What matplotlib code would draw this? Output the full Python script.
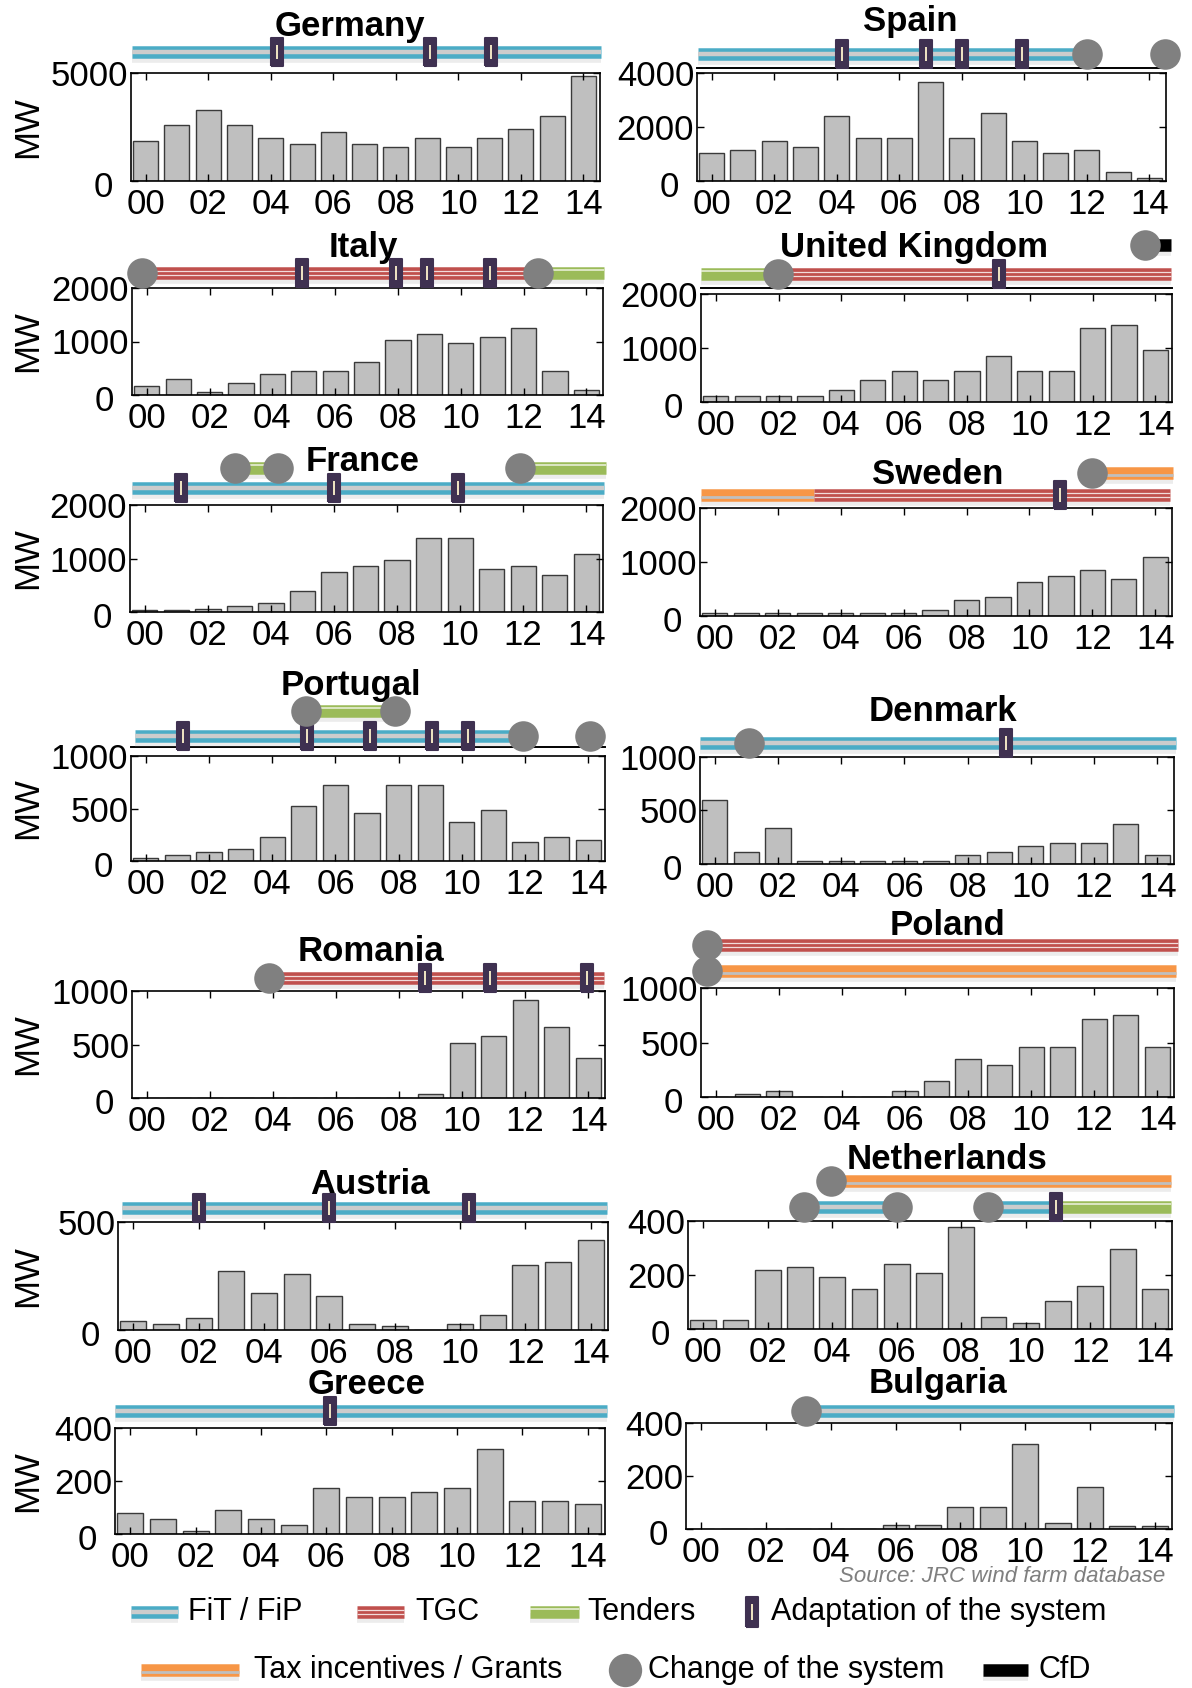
import matplotlib
matplotlib.use('Agg')
import matplotlib.pyplot as plt
from matplotlib.transforms import ScaledTranslation

plt.rcParams['font.family'] = ['Liberation Sans', 'DejaVu Sans']

W, H = 1192, 1688

# ---- data: yearly installed wind capacity (MW), 2000..2014
year_idx = list(range(15))
year_labels = ['00', '02', '04', '06', '08', '10', '12', '14']

mw_germany = [1860, 2590, 3310, 2590, 2010, 1730, 2290, 1730, 1580, 2010, 1580, 2010, 2430, 3000, 4860]
mw_spain = [1030, 1150, 1480, 1260, 2400, 1610, 1610, 3680, 1610, 2520, 1480, 1030, 1150, 320, 100]
mw_italy = [170, 290, 60, 220, 400, 455, 455, 620, 1030, 1145, 980, 1090, 1260, 450, 100]
mw_uk = [105, 105, 105, 105, 230, 400, 570, 400, 570, 850, 570, 570, 1370, 1420, 960]
mw_france = [45, 45, 50, 110, 170, 395, 745, 860, 980, 1390, 1390, 810, 860, 690, 1090]
mw_sweden = [50, 50, 50, 50, 50, 50, 50, 105, 290, 345, 630, 745, 860, 690, 1100]
mw_portugal = [28, 57, 85, 114, 227, 520, 725, 460, 725, 725, 375, 486, 177, 227, 202]
mw_denmark = [600, 112, 340, 28, 28, 28, 28, 28, 84, 112, 169, 197, 197, 372, 84]
mw_romania = [0, 0, 0, 0, 0, 0, 0, 0, 0, 34, 514, 576, 916, 659, 372]
mw_poland = [0, 31, 59, 0, 0, 0, 59, 150, 347, 290, 462, 462, 718, 750, 462]
mw_austria = [43, 30, 57, 272, 171, 258, 158, 30, 17, 0, 30, 71, 300, 314, 416]
mw_netherlands = [33, 33, 217, 228, 194, 149, 239, 206, 378, 46, 22, 103, 161, 296, 149]
mw_greece = [80, 57, 11, 90, 57, 34, 172, 138, 138, 159, 172, 319, 125, 125, 114]
mw_bulgaria = [0, 0, 0, 0, 0, 0, 14, 14, 82, 82, 319, 24, 160, 13, 13]

countries = ['Germany', 'Spain', 'Italy', 'United Kingdom', 'France', 'Sweden', 'Portugal',
             'Denmark', 'Romania', 'Poland', 'Austria', 'Netherlands', 'Greece', 'Bulgaria']
mw_values = [mw_germany, mw_spain, mw_italy, mw_uk, mw_france, mw_sweden, mw_portugal,
             mw_denmark, mw_romania, mw_poland, mw_austria, mw_netherlands, mw_greece, mw_bulgaria]
y_max = [5000, 4000, 2000, 2000, 2000, 2000, 1000, 1000, 1000, 1000, 500, 400, 400, 400]
y_ticks = [[0, 5000], [0, 2000, 4000], [0, 1000, 2000], [0, 1000, 2000], [0, 1000, 2000],
           [0, 1000, 2000], [0, 500, 1000], [0, 500, 1000], [0, 500, 1000], [0, 500, 1000],
           [0, 500], [0, 200, 400], [0, 200, 400], [0, 200, 400]]

# ---- support schemes: (scheme, start year, end year, row), events: (year, row)
seg_germany = [('fit', -0.45, 14.55, 0)]
seg_spain = [('fit', -0.45, 12.0, 0)]
seg_italy = [('tgc', -0.15, 12.45, 0), ('tender', 12.45, 14.55, 0)]
seg_uk = [('tender', -0.48, 1.97, 0), ('tgc', 1.97, 14.5, 0), ('cfd', 13.68, 14.5, 1)]
seg_france = [('fit', -0.4, 14.55, 0), ('tender', 2.85, 4.23, 1), ('tender', 11.9, 14.62, 1)]
seg_sweden = [('tax', -0.43, 3.16, 0), ('tgc', 3.16, 14.48, 0), ('tax', 12.0, 14.55, 1)]
seg_portugal = [('fit', -0.34, 11.95, 0), ('tender', 5.08, 7.9, 1)]
seg_denmark = [('fit', -0.48, 14.6, 0)]
seg_romania = [('tgc', 3.87, 14.5, 0)]
seg_poland = [('tax', -0.27, 14.6, 0), ('tgc', -0.27, 14.65, 1)]
seg_austria = [('fit', -0.36, 14.5, 0)]
seg_netherlands = [('tax', 3.95, 14.5, 1), ('fit', 3.12, 6.0, 0), ('fit', 8.83, 10.93, 0),
                   ('tender', 10.93, 14.5, 0)]
seg_greece = [('fit', -0.47, 14.6, 0)]
seg_bulgaria = [('fit', 3.23, 14.6, 0)]

adapt_germany = [(4.2, 0), (9.1, 0), (11.05, 0)]
adapt_spain = [(4.16, 0), (6.84, 0), (8.0, 0), (9.93, 0)]
adapt_italy = [(4.94, 0), (7.94, 0), (8.94, 0), (10.93, 0)]
adapt_uk = [(9.02, 0)]
adapt_france = [(1.16, 0), (6.0, 0), (9.93, 0)]
adapt_sweden = [(10.97, 0)]
adapt_portugal = [(1.18, 0), (5.1, 0), (7.1, 0), (9.04, 0), (10.2, 0)]
adapt_denmark = [(9.2, 0)]
adapt_romania = [(8.82, 0), (10.87, 0), (13.97, 0)]
adapt_poland = []
adapt_austria = [(2.0, 0), (5.99, 0), (10.29, 0)]
adapt_netherlands = [(10.93, 0)]
adapt_greece = [(6.1, 0)]
adapt_bulgaria = []

change_germany = []
change_spain = [(12.0, 0), (14.5, 0)]
change_italy = [(-0.15, 0), (12.45, 0)]
change_uk = [(1.97, 0), (13.68, 1)]
change_france = [(2.85, 1), (4.23, 1), (11.9, 1)]
change_sweden = [(12.0, 1)]
change_portugal = [(11.95, 0), (14.07, 0), (5.08, 1), (7.9, 1)]
change_denmark = [(1.09, 0)]
change_romania = [(3.87, 0)]
change_poland = [(-0.27, 0), (-0.29, 1)]
change_austria = []
change_netherlands = [(3.95, 1), (3.12, 0), (6.0, 0), (8.83, 0)]
change_greece = []
change_bulgaria = [(3.23, 0)]

segments = [seg_germany, seg_spain, seg_italy, seg_uk, seg_france, seg_sweden, seg_portugal,
            seg_denmark, seg_romania, seg_poland, seg_austria, seg_netherlands, seg_greece, seg_bulgaria]
adaptations = [adapt_germany, adapt_spain, adapt_italy, adapt_uk, adapt_france, adapt_sweden,
               adapt_portugal, adapt_denmark, adapt_romania, adapt_poland, adapt_austria,
               adapt_netherlands, adapt_greece, adapt_bulgaria]
changes = [change_germany, change_spain, change_italy, change_uk, change_france, change_sweden,
           change_portugal, change_denmark, change_romania, change_poland, change_austria,
           change_netherlands, change_greece, change_bulgaria]

# ---- layout (figure pixels): axes box (left, right, top, bottom), title (x, y), row offsets, baseline
boxes = [(131, 600, 73, 181), (697, 1166, 73, 181),
         (132, 603, 288, 395), (701, 1172, 294, 402),
         (130, 603, 505, 612), (700, 1172, 508, 616),
         (131, 605, 756, 861), (700, 1174, 757, 864),
         (132, 605, 991, 1098), (701, 1174, 988, 1097),
         (118, 608, 1222, 1330), (688, 1172, 1221, 1329),
         (115, 605, 1428, 1534), (686, 1172, 1423, 1529)]
titles = [(350, 24), (910, 19), (363, 245), (914, 245), (363, 459), (938, 472), (351, 683),
          (943, 709), (371, 949), (948, 923), (370, 1182), (947, 1157), (367, 1382), (938, 1381)]
rows = [(21, 45), (19, 45), (15, 40), (20, 49), (17, 37), (13, 35), (20, 45),
        (14, 40), (13, 40), (17, 43), (14, 40), (14, 40), (17, 40), (12, 40)]
baselines = [None, 5, None, 6, None, None, 9, None, None, None, None, None, None, None]

COL = {'fit': '#4bacc6', 'tgc': '#c0504d', 'tender': '#9bbb59', 'tax': '#f79646', 'cfd': 'black'}
ADAPT = '#3f3151'
CHANGE = '#808080'
rect = [(-0.44, -1), (0.44, -1), (0.44, 1), (-0.44, 1), (-0.44, -1)]


def band(ax, kind, x0, x1, y, down=-1):
    # down: direction of "lower" in the axes' y units (-1 normal, +1 inverted axes)
    kw = dict(solid_capstyle='butt', clip_on=False)
    ax.plot([x0, x1], [y + 6 * down] * 2, color='#999999', lw=7, alpha=0.18, zorder=2, **kw)
    ax.plot([x0, x1], [y, y], color=COL[kind], lw=9, zorder=3, **kw)
    if kind == 'fit':
        ax.plot([x0, x1], [y, y], color='#cccccc', lw=3.2, zorder=3, **kw)
    elif kind == 'tgc':
        ax.plot([x0, x1], [y + 2, y + 2], color='#f2dcdb', lw=0.9, zorder=3, **kw)
        ax.plot([x0, x1], [y - 2, y - 2], color='#f2dcdb', lw=0.9, zorder=3, **kw)
    elif kind == 'tender':
        ax.plot([x0, x1], [y - 2.6 * down] * 2, color='#eef3e0', lw=1.1, zorder=3, **kw)
    elif kind == 'tax':
        ax.plot([x0, x1], [y + 2.2 * down] * 2, color='#bfbfbf', lw=2.0, zorder=3, **kw)


def adapt_mark(ax, x, y, ms=19.5):
    ax.plot(x, y, marker=rect, ms=ms, color=ADAPT, mec=ADAPT, mew=1.5, zorder=5, clip_on=False)
    ax.plot(x, y, marker='|', ms=ms * 0.55, color='#fff4cc', mew=1.3, zorder=5, clip_on=False)


fig = plt.figure(figsize=(W / 100, H / 100), dpi=100)

for i, c in enumerate(countries):
    l, r, t, b = boxes[i]
    ax = fig.add_axes([l / W, 1 - b / H, (r - l) / W, (b - t) / H])
    ax.bar(year_idx, mw_values[i], width=0.8, color='#bfbfbf', edgecolor='#3a3a3a', linewidth=1.0)
    ax.set_xlim(-0.47, 14.53)
    ax.set_ylim(0, y_max[i])
    ax.set_xticks(range(0, 15, 2))
    ax.set_xticklabels(year_labels)
    ax.set_yticks(y_ticks[i], labels=[str(v) for v in y_ticks[i]])
    ax.tick_params(direction='in', top=True, right=True, length=5, width=1, labelsize=25)
    ax.tick_params(axis='x', pad=5)
    ax.tick_params(axis='y', pad=2)
    for sp in ax.spines.values():
        sp.set_linewidth(1.2)
    zero = ax.get_yticklabels()[0]
    zero.set_transform(zero.get_transform() + ScaledTranslation(-0.15, -0.03, fig.dpi_scale_trans))
    if i % 2 == 0:
        ax.set_ylabel('MW', fontsize=25)
        ax.yaxis.set_label_coords((44 - l) / (r - l), 0.5)

    pa = fig.add_axes([l / W, 1 - t / H, (r - l) / W, 70 / H])
    pa.set_xlim(ax.get_xlim())
    pa.set_ylim(0, 70)
    pa.axis('off')
    pa.set_zorder(5)
    if baselines[i] is not None:
        pa.plot(ax.get_xlim(), [baselines[i]] * 2, color='black', lw=1.4, clip_on=False, zorder=1)
    for kind, s, e, row in segments[i]:
        band(pa, kind, s, e, rows[i][row])
    for yr, row in adaptations[i]:
        adapt_mark(pa, yr, rows[i][row])
    for yr, row in changes[i]:
        pa.plot(yr, rows[i][row], 'o', ms=22, color=CHANGE, mew=0, zorder=6, clip_on=False)

    tx, ty = titles[i]
    fig.text(tx / W, 1 - (ty + 12) / H, c, ha='center', va='baseline', fontsize=25, fontweight='bold')

fig.text(1165 / W, 1 - 1577 / H, 'Source: JRC wind farm database', ha='right', va='center',
         fontsize=16, style='italic', color='#7f7f7f',
         family=['Liberation Sans Narrow', 'Liberation Sans', 'DejaVu Sans'])

# ---- legend
lg = fig.add_axes([0, 0, 1, 1])
lg.set_xlim(0, W)
lg.set_ylim(H, 0)
lg.axis('off')
lg.set_zorder(-1)
y1, y2 = 1612, 1670
band(lg, 'fit', 131, 178, y1, down=1)
lg.text(188, y1, 'FiT / FiP', va='center', fontsize=22)
band(lg, 'tgc', 357, 404, y1, down=1)
lg.text(415, y1, 'TGC', va='center', fontsize=22)
band(lg, 'tender', 530, 579, y1, down=1)
lg.text(587, y1, 'Tenders', va='center', fontsize=22)
adapt_mark(lg, 752, y1, ms=21)
lg.text(771, y1, 'Adaptation of the system', va='center', fontsize=22)
band(lg, 'tax', 141, 239, y2, down=1)
lg.text(254, y2, 'Tax incentives / Grants', va='center', fontsize=22)
lg.plot(625, y2, 'o', ms=24, color=CHANGE, mew=0)
lg.text(648, y2, 'Change of the system', va='center', fontsize=22)
band(lg, 'cfd', 983, 1028, y2, down=1)
lg.text(1039, y2, 'CfD', va='center', fontsize=22)

fig.savefig('out.png', dpi=100)
